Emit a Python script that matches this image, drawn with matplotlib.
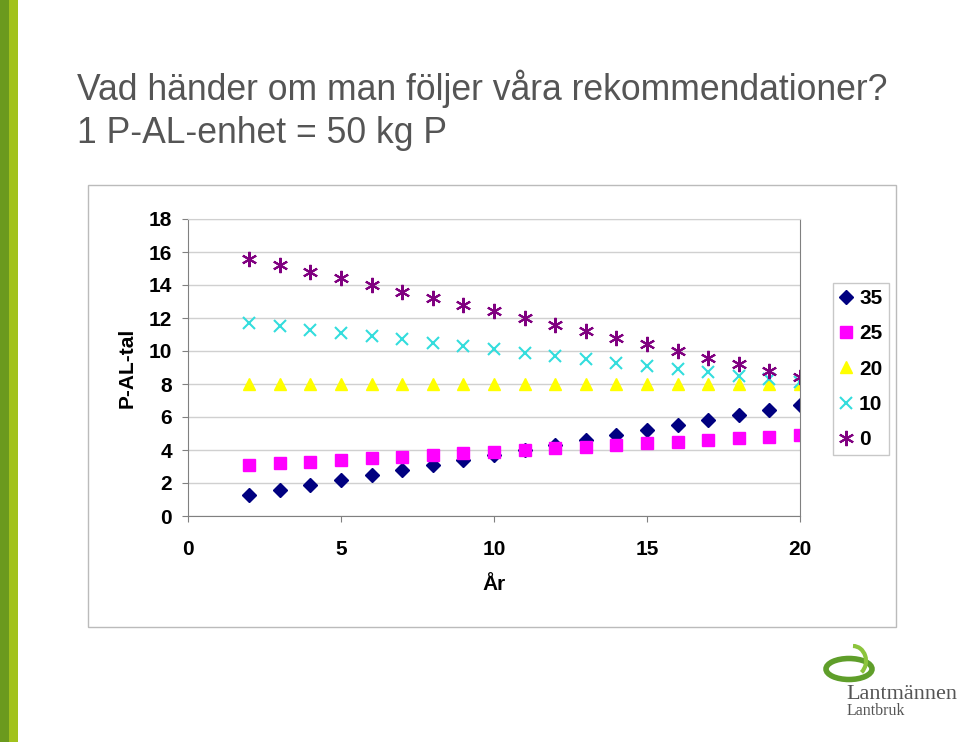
import matplotlib.pyplot as plt
import matplotlib.patches as mpatches

plt.rcParams["font.family"] = ["Liberation Sans", "DejaVu Sans"]

# År och P-AL-tal för olika P-givor (kg P/ha)
years = [2, 3, 4, 5, 6, 7, 8, 9, 10, 11, 12, 13, 14, 15, 16, 17, 18, 19, 20]
p35 = [1.3, 1.6, 1.9, 2.2, 2.5, 2.8, 3.1, 3.4, 3.7, 4.0, 4.3, 4.6, 4.9, 5.2, 5.5, 5.8, 6.1, 6.4, 6.7]
p25 = [3.1, 3.2, 3.3, 3.4, 3.5, 3.6, 3.7, 3.8, 3.9, 4.0, 4.1, 4.2, 4.3, 4.4, 4.5, 4.6, 4.7, 4.8, 4.9]
p20 = [8.0, 8.0, 8.0, 8.0, 8.0, 8.0, 8.0, 8.0, 8.0, 8.0, 8.0, 8.0, 8.0, 8.0, 8.0, 8.0, 8.0, 8.0, 8.0]
p10 = [11.7, 11.5, 11.3, 11.1, 10.9, 10.7, 10.5, 10.3, 10.1, 9.9, 9.7, 9.5, 9.3, 9.1, 8.9, 8.7, 8.5, 8.3, 8.1]
p0 = [15.6, 15.2, 14.8, 14.4, 14.0, 13.6, 13.2, 12.8, 12.4, 12.0, 11.6, 11.2, 10.8, 10.4, 10.0, 9.6, 9.2, 8.8, 8.4]
labels = ["35", "25", "20", "10", "0"]

W, H = 960, 742
fig = plt.figure(figsize=(W / 100, H / 100), dpi=100)
fig.patch.set_facecolor("white")


def fx(px):
    return px / W


def fy(py):
    return 1 - py / H


# grön list till vänster
fig.patches.append(mpatches.Rectangle((0, 0), fx(9), 1, transform=fig.transFigure,
                                      facecolor="#6b9a1e", edgecolor="none", zorder=-2))
fig.patches.append(mpatches.Rectangle((fx(9), 0), fx(9), 1, transform=fig.transFigure,
                                      facecolor="#a2c21c", edgecolor="none", zorder=-2))

# rubrik
fig.text(fx(77), fy(100), "Vad händer om man följer våra rekommendationer?",
         fontsize=25.6, color="#555555", va="baseline", ha="left")
fig.text(fx(77), fy(143), "1 P-AL-enhet = 50 kg P",
         fontsize=25.6, color="#555555", va="baseline", ha="left")

# diagramram
fig.patches.append(mpatches.Rectangle((fx(88), fy(627)), fx(896 - 88), fy(185) - fy(627),
                                      transform=fig.transFigure, facecolor="white",
                                      edgecolor="#bbbbbb", linewidth=1, zorder=-1))

ax = fig.add_axes([fx(188), fy(516), fx(800 - 188), fy(219) - fy(516)])
ax.set_xlim(0, 20)
ax.set_ylim(0, 18)
ax.set_xticks([0, 5, 10, 15, 20])
ax.set_yticks(range(0, 19, 2))
ax.grid(axis="y", color="#d0d0d0", linewidth=1)
ax.set_axisbelow(True)
for s in ["left", "bottom", "right"]:
    ax.spines[s].set_color("#808080")
ax.spines["top"].set_color("#d0d0d0")
ax.tick_params(colors="#808080", length=4, labelcolor="black", labelsize=15)
for t in ax.get_xticklabels() + ax.get_yticklabels():
    t.set_fontweight("bold")
ax.tick_params(axis="x", pad=13)
ax.tick_params(axis="y", pad=7.5)

ax.plot(years, p35, linestyle="none", marker="D", markersize=7.5, color="#000080", label=labels[0])
ax.plot(years, p25, linestyle="none", marker="s", markersize=8, color="#ff00ff", label=labels[1])
ax.plot(years, p20, linestyle="none", marker="^", markersize=9, color="#ffff00", label=labels[2])
ax.plot(years, p10, linestyle="none", marker="x", markersize=9, markeredgewidth=1.5,
        color="#33dddd", label=labels[3])
ax.plot(years, p0, linestyle="none", marker=(6, 2, 0), markersize=11, markeredgewidth=1.5,
        color="#800080", label=labels[4])

ax.set_xlabel("År", fontsize=15, fontweight="bold", labelpad=12)
ax.set_ylabel("P-AL-tal", fontsize=15, fontweight="bold", labelpad=9)

leg = ax.legend(loc="upper left", bbox_to_anchor=(fx(833), fy(283)), bbox_transform=fig.transFigure,
                frameon=True, fancybox=False, edgecolor="#bbbbbb",
                handlelength=0.6, handletextpad=0.35, labelspacing=0.78, borderpad=0.3,
                borderaxespad=0, prop={"size": 15, "weight": "bold"})
leg.get_frame().set_linewidth(1)

# logotyp
fig.patches.append(mpatches.Ellipse((fx(849), fy(669)), fx(46), fy(0) - fy(21),
                                    transform=fig.transFigure, facecolor="none",
                                    edgecolor="#5f9e2a", linewidth=4))
fig.patches.append(mpatches.Arc((fx(853), fy(661)), fx(26), fy(0) - fy(30), theta1=-60, theta2=90,
                                 transform=fig.transFigure, edgecolor="#8cc43c", linewidth=3))
fig.text(fx(846), fy(699), "Lantmännen", fontsize=16, color="#555555",
         family="Liberation Serif", va="baseline", ha="left")
fig.text(fx(847), fy(715), "Lantbruk", fontsize=11.5, color="#555555",
         family="Liberation Serif", va="baseline", ha="left")

fig.savefig("out.png", dpi=100, facecolor="white")
